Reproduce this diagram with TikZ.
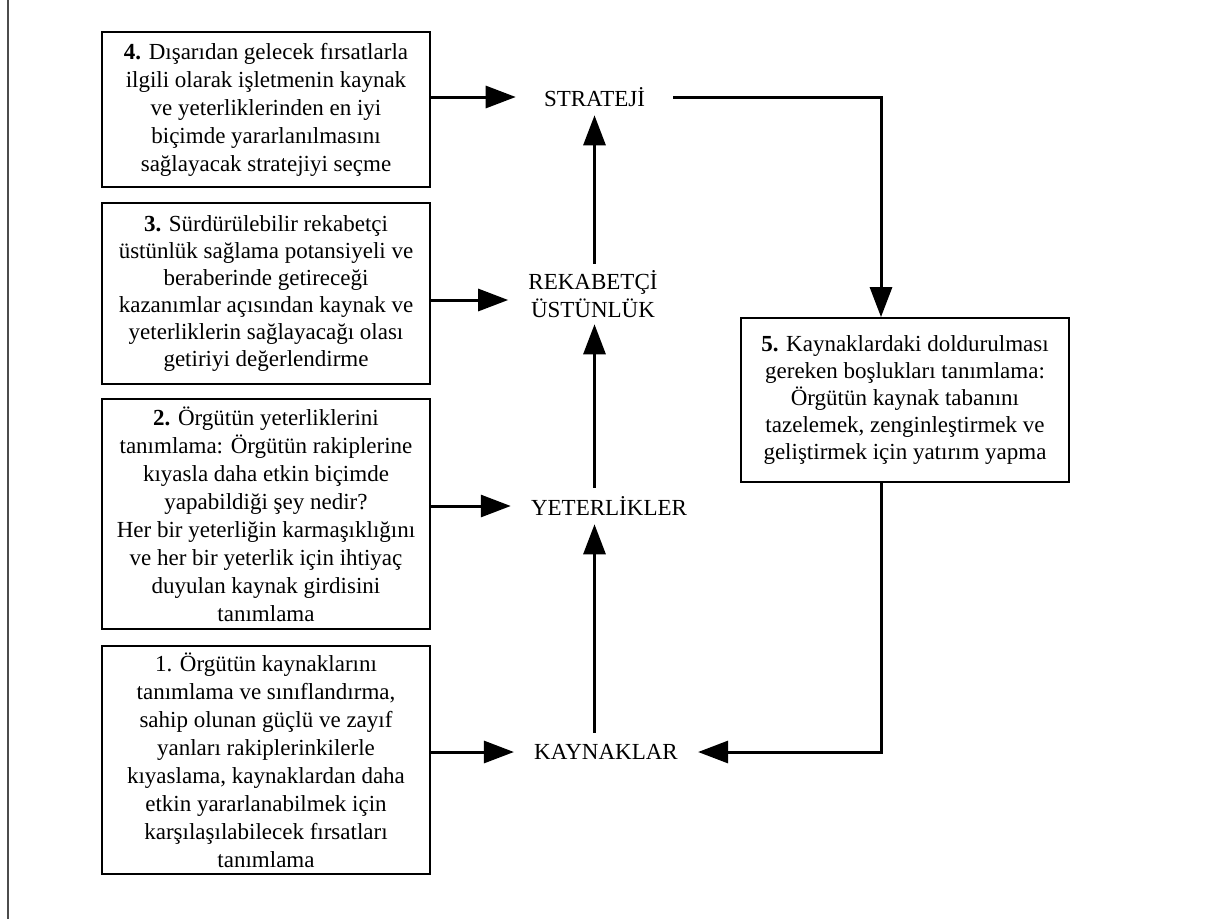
\documentclass[tikz,border=0pt]{standalone}
\usepackage{fontspec}
\setmainfont{Liberation Serif}
\usepackage{tikz}
\usetikzlibrary{arrows.meta}
\usetikzlibrary{calc}

\begin{document}
\begin{tikzpicture}[x=1pt,y=-1pt,-,auto,semithick]
	\tikzstyle{adim}=[draw, line width=1.8pt, minimum width=328pt, inner sep=0pt, align=center, font=\fontsize{23}{28}\selectfont]
	\tikzstyle{etiket}=[inner xsep=20pt, inner ysep=0pt, minimum height=36pt, align=center, font=\fontsize{23}{28}\selectfont]
	\tikzstyle{ok}=[line width=3pt, -{Triangle[length=30pt,width=22pt]}]
	\useasboundingbox (0,0) rectangle (1215,919);
	\draw[gray!60!black, line width=2pt] (8,0) -- (8,919);

	% ortadaki kavramlar
	\node[etiket, inner xsep=28pt] (S) at (594.5,97) {STRATEJİ};
	\node[etiket, minimum height=60pt] (R) at (593,294) {REKABETÇİ\\ÜSTÜNLÜK};
	\node[etiket] (Y) at (609,506) {YETERLİKLER};
	\node[etiket, minimum height=38pt] (K) at (606,752) {KAYNAKLAR};

	% adimlar
	\node[adim, minimum height=155pt] (4) at (266,109.5) {\textbf{4.} Dışarıdan gelecek fırsatlarla\\ilgili olarak işletmenin kaynak\\ve yeterliklerinden en iyi\\biçimde yararlanılmasını\\sağlayacak stratejiyi seçme};
	\node[adim, minimum height=181pt, font=\fontsize{23}{27}\selectfont] (3) at (266,293.5) {\textbf{3.} Sürdürülebilir rekabetçi\\üstünlük sağlama potansiyeli ve\\beraberinde getireceği\\kazanımlar açısından kaynak ve\\yeterliklerin sağlayacağı olası\\getiriyi değerlendirme};
	\node[adim, minimum height=230pt] (2) at (266,514) {\textbf{2.} Örgütün yeterliklerini\\tanımlama: Örgütün rakiplerine\\kıyasla daha etkin biçimde\\yapabildiği şey nedir?\\Her bir yeterliğin karmaşıklığını\\ve her bir yeterlik için ihtiyaç\\duyulan kaynak girdisini\\tanımlama};
	\node[adim, minimum height=228pt] (1) at (266,760) {1. Örgütün kaynaklarını\\tanımlama ve sınıflandırma,\\sahip olunan güçlü ve zayıf\\yanları rakiplerinkilerle\\kıyaslama, kaynaklardan daha\\etkin yararlanabilmek için\\karşılaşılabilecek fırsatları\\tanımlama};
	\node[adim, minimum height=164pt, font=\fontsize{23}{27}\selectfont] (5) at (905,400) {\textbf{5.} Kaynaklardaki doldurulması\\gereken boşlukları tanımlama:\\Örgütün kaynak tabanını\\tazelemek, zenginleştirmek ve\\geliştirmek için yatırım yapma};
	\coordinate (T) at (881,0);
	\coordinate (Rgir) at ([yshift=-6pt]R.west);

	% oklar
	\draw[ok] (4.east |- S.west) -- (S.west);
	\draw[ok] (3.east |- Rgir) -- (Rgir);
	\draw[ok] (2.east |- Y.west) -- (Y.west);
	\draw[ok] (1.east |- K.west) -- (K.west);
	\draw[ok] (K.north -| S) -- (Y.south -| S);
	\draw[ok] (Y.north -| S) -- (R.south -| S);
	\draw[ok] (R.north -| S) -- (S.south);
	\draw[ok] (S.east) -| (T |- 5.north);
	\draw[ok] (5.south -| T) |- (K.east);
\end{tikzpicture}
\end{document}
